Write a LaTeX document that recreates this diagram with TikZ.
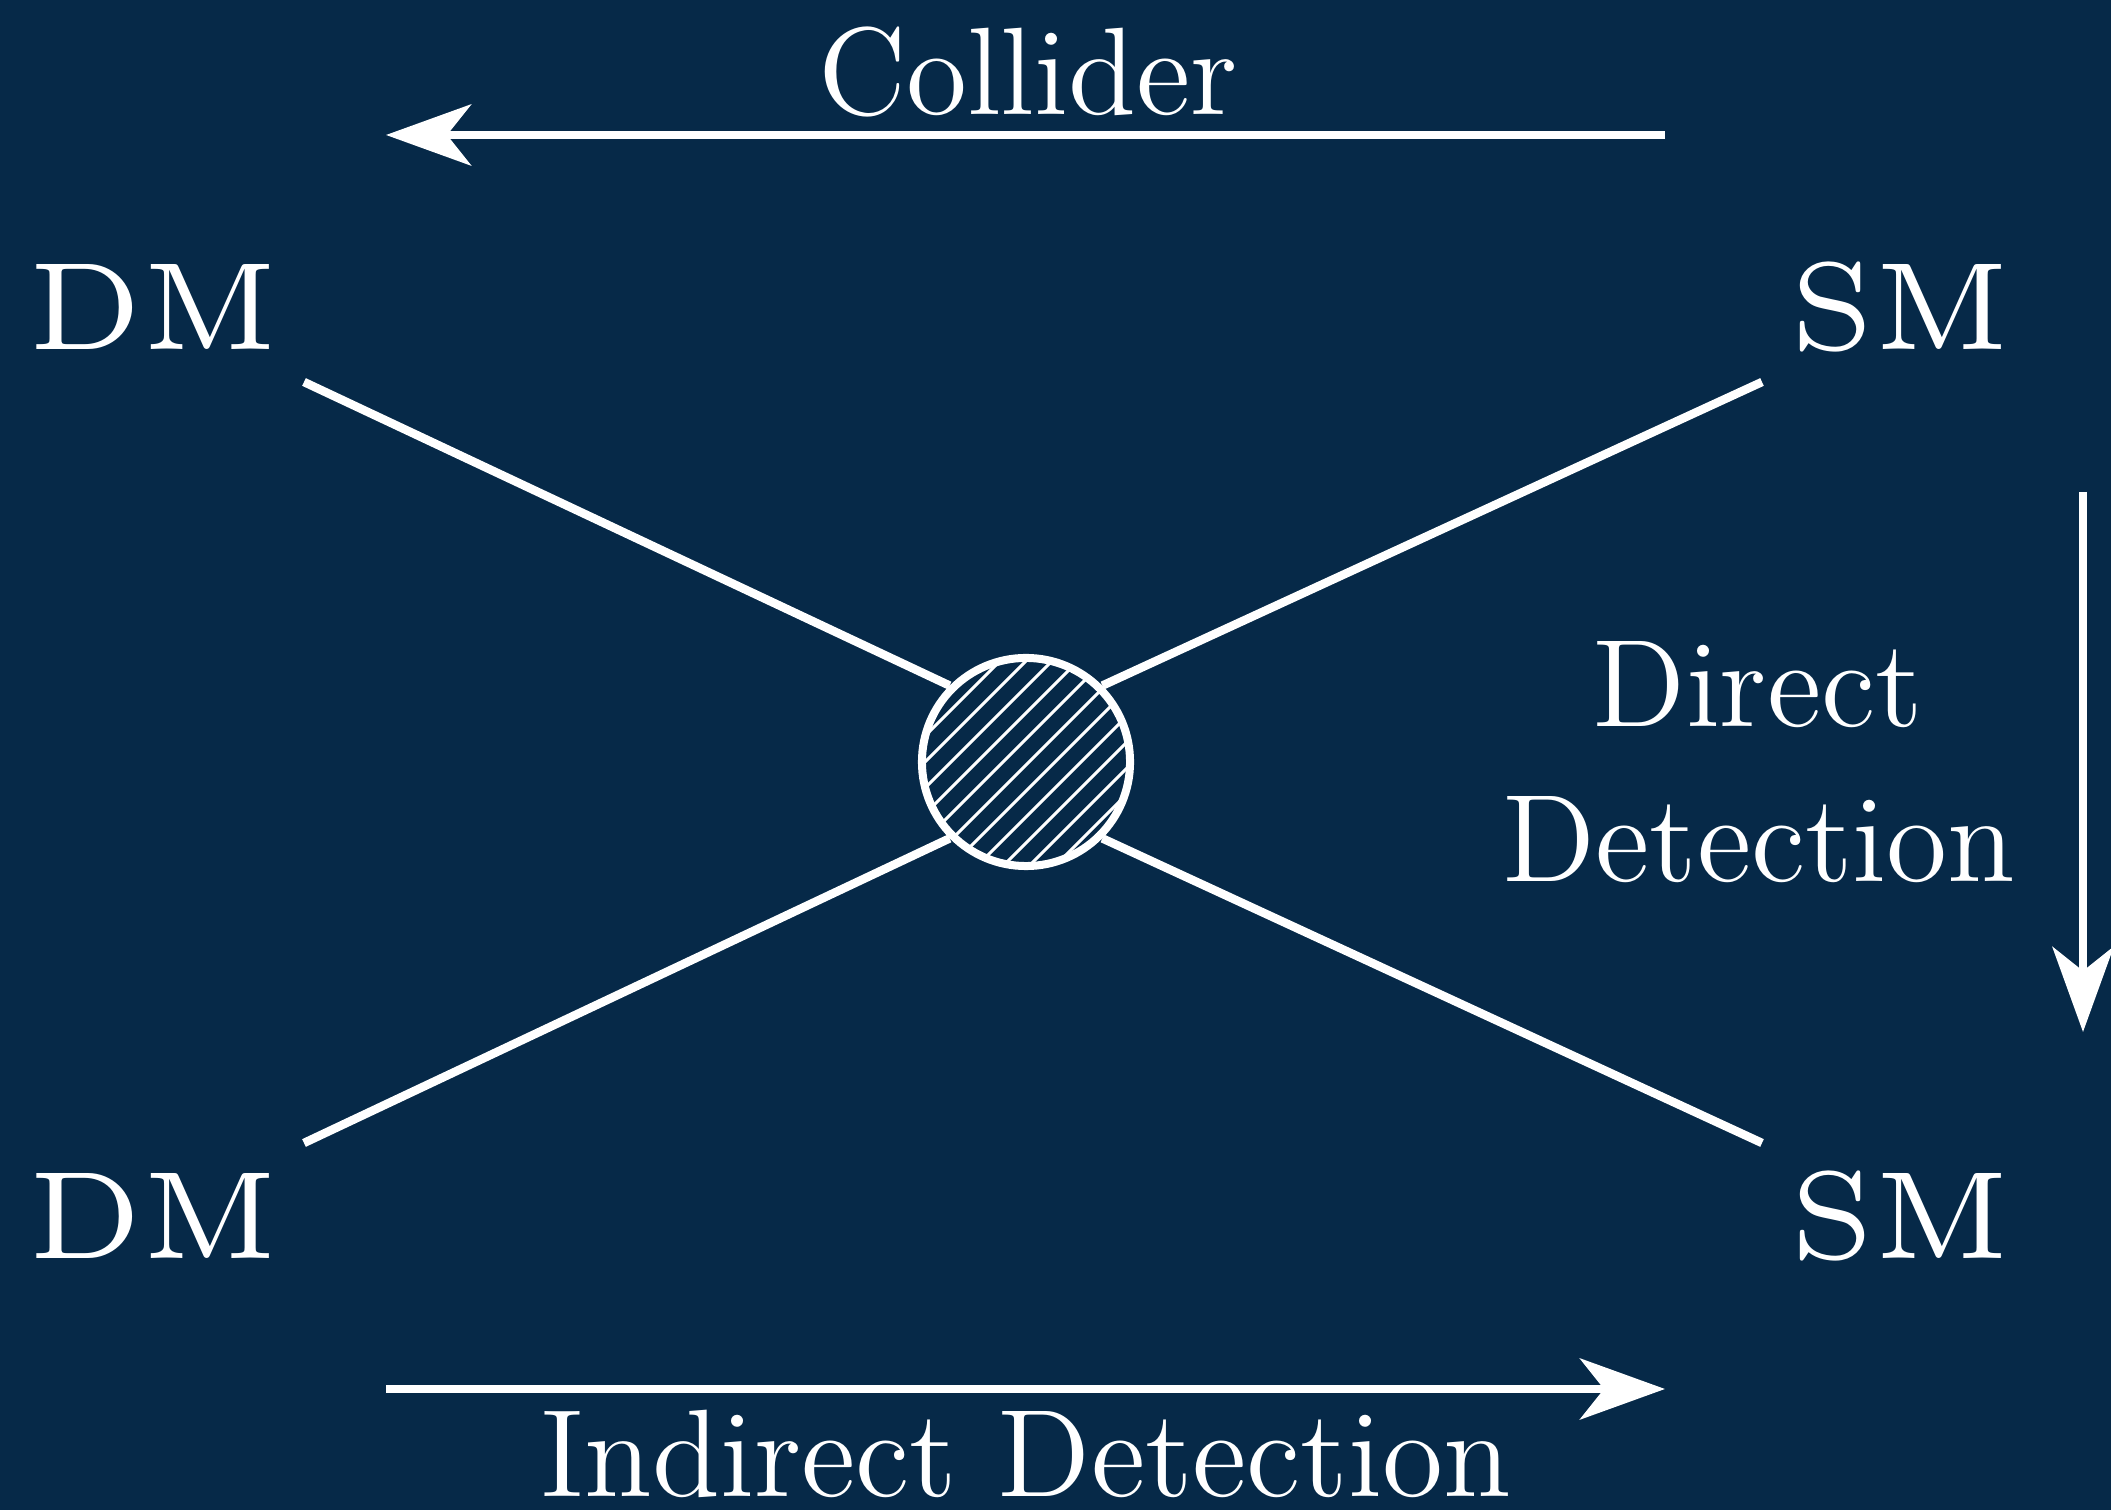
\documentclass[tikz,border=0pt]{standalone}
\usetikzlibrary{arrows.meta}
\definecolor{bgnavy}{RGB}{6,41,72}
\begin{document}
\begin{tikzpicture}[x=0.01cm, y=-0.01cm,
  lbl/.style={text=white, anchor=base, inner sep=0pt, scale=2.95,
    font=\fontsize{12}{15}\selectfont},
  particle/.style={text=white, anchor=base, inner sep=0pt, scale=5.90,
    font=\fontsize{6}{7}\selectfont},
  leg/.style={white, line width=0.085cm},
  flow/.style={white, line width=0.085cm,
    -{Stealth[length=0.85cm, width=0.61cm, inset=0.24cm]}},
  hatch/.style={white, line width=0.03cm}]

% canvas
\useasboundingbox (0,0) rectangle (2111,1510);
\fill[bgnavy] (0,0) rectangle (2111,1510);

% external legs
\coordinate (l1) at (304,382);
\coordinate (l2) at (1762,382);
\coordinate (l3) at (304,1143);
\coordinate (l4) at (1762,1143);

% hatched interaction blob
\node[circle, draw=white, fill=bgnavy, line width=0.08cm, inner sep=0pt,
  minimum size=2.08cm,
  path picture={
    \foreach \k in {-5,...,5}{
      \pgfmathsetmacro\d{3+26*\k}
      \draw[hatch]
        ([shift={({\d/2-160},{\d/2+160})}]path picture bounding box.center) --
        ([shift={({\d/2+160},{\d/2-160})}]path picture bounding box.center);
    }}] (blob) at (1026,762) {};

\draw[leg] (l1) -- (blob.north west);
\draw[leg] (l2) -- (blob.north east);
\draw[leg] (l3) -- (blob.south west);
\draw[leg] (l4) -- (blob.south east);

% particle labels
\node[particle] (dm1) at (153,350) {DM};
\node[particle] (sm1) at (1900,350) {SM};
\node[particle] (dm2) at (153,1259) {DM};
\node[particle] (sm2) at (1900,1259) {SM};

% process directions
\coordinate (colA) at (1665,135);
\coordinate (colB) at (386,135);
\draw[flow] (colA) -- (colB);
\node[lbl] (collider) at (1028,115) {Collider};

\coordinate (ddA) at (2083,492);
\coordinate (ddB) at (2083,1032);
\draw[flow] (ddA) -- (ddB);
\node[lbl] (direct) at (1758,727) {Direct};
\node[lbl] (detection) at (1759,882) {Detection};

\coordinate (idA) at (386,1389);
\coordinate (idB) at (1665,1389);
\draw[flow] (idA) -- (idB);
\node[lbl] (indirect) at (1026,1497) {Indirect Detection};
\end{tikzpicture}
\end{document}
